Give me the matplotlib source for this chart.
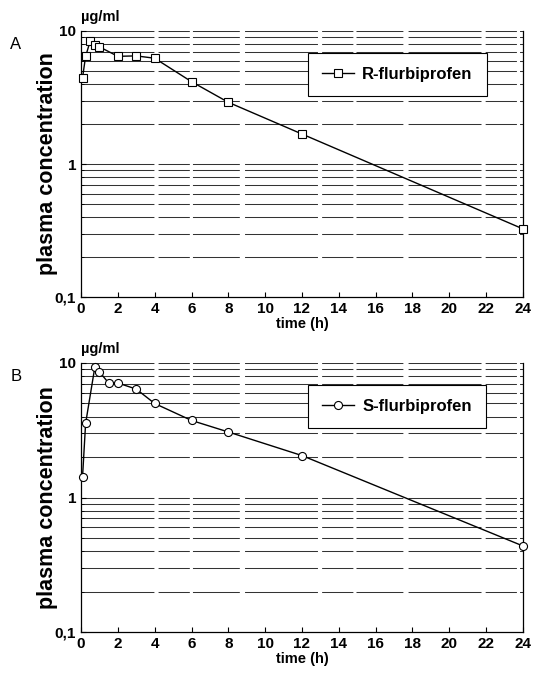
import numpy as np
import matplotlib.pyplot as plt
from matplotlib.ticker import FixedLocator, NullFormatter, FixedFormatter

plt.rcParams['font.family'] = ['Liberation Sans', 'DejaVu Sans']

# sampling times (h) and plasma concentrations (ug/ml)
t_r = [0.083, 0.25, 0.5, 0.75, 1, 2, 3, 4, 6, 8, 12, 24]
c_r = [4.45, 6.45, 8.4, 7.8, 7.6, 6.45, 6.5, 6.24, 4.16, 2.91, 1.68, 0.325]

t_s = [0.083, 0.25, 0.75, 1, 1.5, 2, 3, 4, 6, 8, 12, 24]
c_s = [1.42, 3.55, 9.3, 8.6, 7.1, 7.1, 6.4, 5.0, 3.74, 3.07, 2.05, 0.436]

x_ticks = list(range(0, 25, 2))
y_major = [0.1, 1, 10]
y_labels = ['0,1', '1', '10']
y_minor = [m * d for d in (0.1, 1) for m in range(2, 10)]

fig = plt.figure(figsize=(5.34, 6.73), dpi=100)
W, H = 534, 673


def panel(top, bottom, t, c, marker, name, letter):
    ax = fig.add_axes([81 / W, 1 - bottom / H, (523 - 81) / W, (bottom - top) / H])
    ax.set_yscale('log')
    ax.set_ylim(0.1, 10)
    ax.set_xlim(0, 24)
    # scanned-looking horizontal grid
    for v in y_minor + [1, 10]:
        ax.axhline(v, color='0.2', lw=0.75, ls=(0, (70, 4, 30, 3, 45, 5)), zorder=1)
    ax.plot(t, c, color='black', lw=1.0, marker=marker, ms=5.8, mfc='white',
            mec='black', mew=0.8, label=name, clip_on=False, zorder=3)
    ax.yaxis.set_major_locator(FixedLocator(y_major))
    ax.yaxis.set_major_formatter(FixedFormatter(y_labels))
    ax.yaxis.set_minor_locator(FixedLocator(y_minor))
    ax.yaxis.set_minor_formatter(NullFormatter())
    ax.set_xticks(x_ticks)
    ax.tick_params(axis='both', which='both', direction='in', labelsize=11)
    ax.tick_params(axis='y', which='minor', length=2)
    for lab in ax.get_xticklabels() + ax.get_yticklabels():
        lab.set_fontweight('bold')
    ax.spines['top'].set_visible(False)
    for s in ('left', 'bottom', 'right'):
        ax.spines[s].set_linewidth(0.9)
    ax.set_ylabel('plasma concentration', fontsize=15.5, fontweight='bold', labelpad=-2)
    ax.set_xlabel('time (h)', fontsize=10.5, fontweight='bold', labelpad=1)
    ax.text(0, 1.025, 'µg/ml', transform=ax.transAxes, fontsize=10.5,
            fontweight='bold', ha='left', va='bottom')
    ax.text(-0.16, 0.95, letter, transform=ax.transAxes, fontsize=12,
            ha='left', va='center')
    leg = ax.legend(loc='upper left',
                    bbox_to_anchor=((308 - 81) / 442, 1 - 22 / (bottom - top)),
                    borderaxespad=0, frameon=True, fancybox=False,
                    edgecolor='black', framealpha=1, handlelength=1.9,
                    handletextpad=0.5, borderpad=0.85,
                    prop={'weight': 'bold', 'size': 12})
    leg.get_frame().set_linewidth(0.8)
    return ax


panel(31, 297, t_r, c_r, 's', 'R-flurbiprofen', 'A')
panel(363, 632, t_s, c_s, 'o', 'S-flurbiprofen', 'B')

fig.savefig('out.png', dpi=100)
